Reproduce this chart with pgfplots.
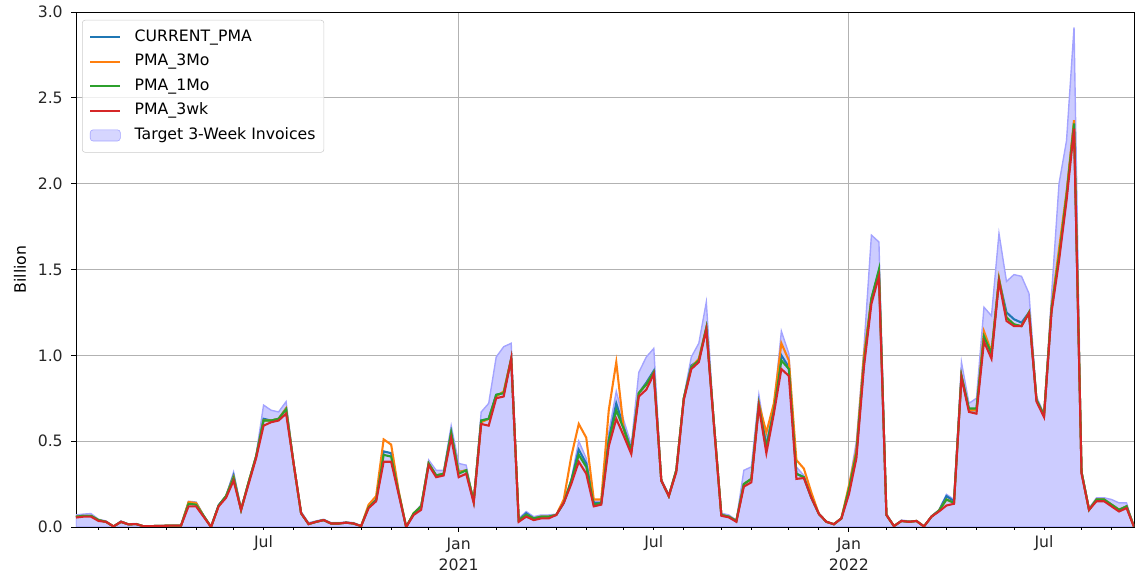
\documentclass[border=0pt]{standalone}
\usepackage{pgfplots}
\usepackage{pgfplotstable}
\pgfplotsset{compat=1.18}
\usepackage{fontspec}
\setmainfont{DejaVu Sans}

\definecolor{mplblue}{HTML}{1F77B4}
\definecolor{mplorange}{HTML}{FF7F0E}
\definecolor{mplgreen}{HTML}{2CA02C}
\definecolor{mplred}{HTML}{D62728}
\definecolor{tgtfill}{HTML}{CCCCFF}
\definecolor{tgtedge}{HTML}{A3A3FF}

% week index (week 0 = 6 Jan 2020), values in billion
\pgfplotstableread{
i tgt cur m3 m1 wk
0 0.070 0.060 0.060 0.060 0.055
1 0.075 0.065 0.065 0.065 0.060
2 0.078 0.065 0.065 0.065 0.060
3 0.045 0.040 0.040 0.040 0.035
4 0.035 0.030 0.030 0.030 0.030
5 0.005 0.003 0.003 0.003 0.003
6 0.035 0.030 0.030 0.030 0.030
7 0.018 0.015 0.015 0.015 0.015
8 0.020 0.017 0.017 0.017 0.017
9 0.005 0.004 0.004 0.004 0.004
10 0.006 0.005 0.005 0.005 0.005
11 0.007 0.006 0.006 0.006 0.006
12 0.008 0.007 0.007 0.007 0.007
13 0.009 0.008 0.008 0.008 0.008
14 0.010 0.008 0.008 0.008 0.008
15 0.150 0.140 0.145 0.135 0.120
16 0.145 0.140 0.140 0.130 0.120
17 0.070 0.065 0.065 0.065 0.060
18 0.002 0.000 0.000 0.000 0.000
19 0.130 0.125 0.120 0.125 0.120
20 0.180 0.180 0.180 0.180 0.170
21 0.320 0.300 0.290 0.285 0.270
22 0.110 0.100 0.100 0.100 0.100
23 0.260 0.260 0.260 0.260 0.250
24 0.420 0.410 0.410 0.410 0.400
25 0.710 0.630 0.620 0.620 0.590
26 0.680 0.620 0.620 0.620 0.610
27 0.670 0.630 0.630 0.630 0.620
28 0.730 0.690 0.690 0.685 0.660
29 0.380 0.370 0.370 0.370 0.370
30 0.090 0.080 0.080 0.080 0.080
31 0.025 0.017 0.017 0.017 0.017
32 0.035 0.030 0.030 0.030 0.030
33 0.045 0.040 0.040 0.040 0.040
34 0.025 0.020 0.020 0.020 0.020
35 0.025 0.020 0.020 0.020 0.020
36 0.030 0.025 0.025 0.025 0.025
37 0.025 0.020 0.020 0.020 0.020
38 0.008 0.005 0.005 0.005 0.005
39 0.120 0.120 0.130 0.115 0.110
40 0.160 0.160 0.180 0.155 0.150
41 0.440 0.440 0.510 0.420 0.380
42 0.430 0.430 0.480 0.410 0.380
43 0.200 0.200 0.210 0.200 0.190
44 0.003 0.000 0.000 0.000 0.000
45 0.080 0.075 0.080 0.080 0.070
46 0.130 0.120 0.120 0.120 0.100
47 0.390 0.370 0.370 0.370 0.360
48 0.330 0.300 0.300 0.300 0.290
49 0.330 0.310 0.310 0.310 0.300
50 0.590 0.550 0.540 0.550 0.520
51 0.370 0.320 0.320 0.310 0.290
52 0.360 0.330 0.330 0.330 0.310
53 0.150 0.150 0.150 0.150 0.140
54 0.670 0.620 0.610 0.620 0.600
55 0.720 0.630 0.630 0.630 0.590
56 0.990 0.770 0.760 0.770 0.750
57 1.050 0.780 0.790 0.780 0.760
58 1.070 0.980 0.980 0.980 0.980
59 0.050 0.040 0.040 0.040 0.030
60 0.090 0.080 0.070 0.070 0.060
61 0.060 0.050 0.050 0.050 0.040
62 0.070 0.060 0.060 0.060 0.050
63 0.070 0.060 0.060 0.060 0.050
64 0.075 0.070 0.070 0.070 0.070
65 0.140 0.140 0.160 0.140 0.140
66 0.280 0.270 0.410 0.270 0.250
67 0.500 0.450 0.600 0.420 0.380
68 0.400 0.370 0.520 0.350 0.310
69 0.150 0.140 0.160 0.130 0.120
70 0.150 0.140 0.160 0.140 0.130
71 0.550 0.510 0.680 0.500 0.470
72 0.790 0.720 0.960 0.680 0.630
73 0.620 0.580 0.570 0.570 0.530
74 0.480 0.450 0.440 0.440 0.425
75 0.900 0.780 0.780 0.780 0.760
76 0.990 0.840 0.830 0.830 0.800
77 1.040 0.910 0.900 0.900 0.890
78 0.280 0.270 0.270 0.270 0.270
79 0.190 0.180 0.180 0.180 0.180
80 0.340 0.330 0.330 0.330 0.320
81 0.760 0.750 0.750 0.750 0.740
82 0.990 0.940 0.930 0.930 0.920
83 1.070 0.970 0.980 0.970 0.960
84 1.310 1.160 1.160 1.160 1.150
85 0.620 0.610 0.610 0.610 0.600
86 0.080 0.070 0.070 0.070 0.065
87 0.070 0.060 0.060 0.060 0.056
88 0.040 0.035 0.035 0.035 0.030
89 0.330 0.250 0.250 0.250 0.235
90 0.350 0.280 0.280 0.280 0.260
91 0.770 0.720 0.720 0.710 0.700
92 0.500 0.470 0.550 0.460 0.430
93 0.700 0.680 0.720 0.680 0.660
94 1.140 1.000 1.070 0.970 0.920
95 1.010 0.930 0.970 0.920 0.880
96 0.350 0.310 0.390 0.310 0.280
97 0.300 0.290 0.340 0.290 0.285
98 0.180 0.170 0.200 0.170 0.170
99 0.080 0.076 0.076 0.076 0.076
100 0.030 0.030 0.030 0.030 0.030
101 0.016 0.016 0.016 0.016 0.016
102 0.050 0.050 0.050 0.050 0.050
103 0.240 0.210 0.240 0.220 0.190
104 0.500 0.430 0.450 0.430 0.400
105 1.040 0.960 1.000 0.960 0.930
106 1.700 1.330 1.330 1.330 1.300
107 1.660 1.490 1.480 1.500 1.460
108 0.080 0.070 0.070 0.070 0.070
109 0.005 0.005 0.005 0.005 0.005
110 0.040 0.035 0.035 0.035 0.035
111 0.035 0.030 0.030 0.030 0.030
112 0.035 0.035 0.035 0.035 0.035
113 0.005 0.003 0.003 0.003 0.003
114 0.065 0.060 0.060 0.060 0.060
115 0.100 0.095 0.095 0.095 0.090
116 0.190 0.180 0.160 0.160 0.125
117 0.160 0.150 0.140 0.140 0.135
118 0.960 0.880 0.880 0.880 0.870
119 0.720 0.680 0.680 0.690 0.670
120 0.750 0.680 0.680 0.690 0.660
121 1.280 1.110 1.140 1.110 1.080
122 1.230 1.010 1.020 1.010 0.980
123 1.710 1.440 1.450 1.440 1.430
124 1.430 1.250 1.220 1.220 1.200
125 1.470 1.210 1.180 1.180 1.170
126 1.460 1.190 1.170 1.170 1.170
127 1.360 1.250 1.250 1.250 1.245
128 0.760 0.740 0.740 0.740 0.730
129 0.660 0.650 0.650 0.650 0.640
130 1.350 1.270 1.280 1.270 1.250
131 2.000 1.580 1.620 1.580 1.550
132 2.250 1.930 1.950 1.930 1.900
133 2.910 2.350 2.370 2.350 2.320
134 0.330 0.320 0.320 0.320 0.310
135 0.110 0.100 0.100 0.100 0.100
136 0.170 0.160 0.160 0.160 0.150
137 0.170 0.160 0.160 0.160 0.150
138 0.160 0.130 0.130 0.130 0.120
139 0.140 0.100 0.100 0.100 0.090
140 0.140 0.120 0.120 0.120 0.110
141 0.000 0.000 0.000 0.000 0.000
}\pmadata

\begin{document}
\begin{tikzpicture}
\begin{axis}[
    scale only axis,
    width=761.8pt,
    height=370.8pt,
    xmin=0, xmax=141,
    ymin=0, ymax=3,
    font=\fontsize{11.3}{13.5}\selectfont,
    ytick={0,0.5,...,3},
    yticklabel style={xshift=-2.5pt, /pgf/number format/.cd, fixed, fixed zerofill, precision=1},
    /pgf/number format/assume math mode=true,
    ylabel={Billion},
    ylabel style={yshift=1.5pt},
    xtick={51,103},
    xticklabels={{Jan\\[1.5pt]2021},{Jan\\[1.5pt]2022}},
    xticklabel style={align=center, yshift=-1pt},
    extra x ticks={25,77,129},
    extra x tick labels={Jul,Jul,Jul},
    extra x tick style={grid=none, major tick length=2pt},
    minor xtick={3,7,12,16,21,29,34,38,42,47,56,60,64,68,73,81,86,90,95,99,108,112,116,120,125,134,138},
    minor tick length=2pt,
    major tick length=3.5pt,
    tick align=outside,
    tick pos=left,
    tick style={black, line width=0.6pt},
    ticklabel style={text=black!85},
    grid=major,
    major grid style={color=black!30, line width=0.6pt},
    axis line style={black, line width=0.6pt},
    legend cell align=left,
    legend style={
        at={(0.0057,0.9845)}, anchor=north west,
        draw=black!20, rounded corners=2pt,
        fill=white, fill opacity=0.8, text opacity=1,
        row sep=4.4pt, inner xsep=5pt, inner ysep=5.5pt,
        nodes={inner sep=1pt, text height=8.6pt, text depth=2.7pt},
        font=\fontsize{11.3}{13.5}\selectfont,
    },
    legend image code/.code={\draw[#1, line width=1.5pt] (0pt,0pt) -- (21.6pt,0pt);
        \path[draw=none, fill=none] (0pt,0pt) -- (31pt,0pt);},
]
\addplot[fill=tgtfill, draw=tgtedge, line width=1pt, forget plot]
    table[x=i, y=tgt] {\pmadata} \closedcycle;
\addplot[mplblue, line width=1.5pt] table[x=i, y=cur] {\pmadata};
\addlegendentry{CURRENT\_PMA}
\addplot[mplorange, line width=1.5pt] table[x=i, y=m3] {\pmadata};
\addlegendentry{PMA\_3Mo}
\addplot[mplgreen, line width=1.5pt] table[x=i, y=m1] {\pmadata};
\addlegendentry{PMA\_1Mo}
\addplot[mplred, line width=1.5pt] table[x=i, y=wk] {\pmadata};
\addlegendentry{PMA\_3wk}
\addlegendimage{legend image code/.code={\draw[fill=tgtfill, draw=tgtedge] (0pt,-4pt) rectangle (21.6pt,4pt);
    \path[draw=none, fill=none] (0pt,0pt) -- (31pt,0pt);}}
\addlegendentry{Target 3-Week Invoices}
\end{axis}
\pgfresetboundingbox
\path[use as bounding box] (-54.7pt,-33.8pt) rectangle (766.8pt,379.4pt);
\end{tikzpicture}
\end{document}
